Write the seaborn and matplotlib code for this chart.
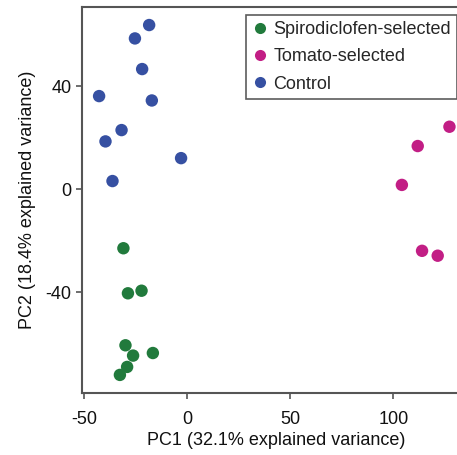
import matplotlib
matplotlib.use("Agg")
import matplotlib.pyplot as plt
import seaborn as sns
import pandas as pd

groups = ["Spirodiclofen-selected", "Tomato-selected", "Control"]

spiro_pc1 = [-31.1, -22.3, -28.9, -30.1, -16.8, -26.4, -29.3, -32.8]
spiro_pc2 = [-23.0, -39.5, -40.5, -60.7, -63.7, -64.7, -69.1, -72.2]

tomato_pc1 = [127.2, 111.8, 104.1, 113.9, 121.5]
tomato_pc2 = [24.2, 16.7, 1.6, -24.0, -25.9]

control_pc1 = [-18.6, -25.5, -22.0, -42.9, -17.3, -32.0, -39.8, -3.1, -36.4]
control_pc2 = [63.7, 58.5, 46.6, 36.1, 34.4, 22.9, 18.5, 12.0, 3.1]

colors = {"Spirodiclofen-selected": "#217a3c",
          "Tomato-selected": "#c21e85",
          "Control": "#3650a2"}

df = pd.DataFrame({
    "PC1": spiro_pc1 + tomato_pc1 + control_pc1,
    "PC2": spiro_pc2 + tomato_pc2 + control_pc2,
    "Group": [groups[0]] * len(spiro_pc1) + [groups[1]] * len(tomato_pc1) + [groups[2]] * len(control_pc1),
})

sns.set_style("white")
plt.rcParams["font.family"] = ["Liberation Sans", "DejaVu Sans"]
plt.rcParams["axes.unicode_minus"] = False

fig = plt.figure(figsize=(4.57, 4.55), dpi=100)
ax = fig.add_axes([0.179, 0.137, 0.85, 0.847])

sns.scatterplot(data=df, x="PC1", y="PC2", hue="Group", hue_order=groups,
                palette=colors, s=80, edgecolor="none", ax=ax, legend=True)

ax.set_xlim(-51.3, 137.3)
ax.set_ylim(-79.1, 70.6)
ax.set_xticks([-50, 0, 50, 100])
ax.set_yticks([-40, 0, 40])
ax.set_xlabel("PC1 (32.1% explained variance)", fontsize=13, color="#111111", labelpad=3)
ax.set_ylabel("PC2 (18.4% explained variance)", fontsize=13, color="#111111", labelpad=7)
ax.tick_params(axis="both", labelsize=13, direction="out", length=4, width=1.2,
               color="#555555", labelcolor="#111111", bottom=True, left=True)
ax.tick_params(axis="x", pad=9)
for side in ["left", "bottom", "top", "right"]:
    ax.spines[side].set_color("#555555")
    ax.spines[side].set_linewidth(1.5)

handles, labels = ax.get_legend_handles_labels()
leg = ax.legend(handles, labels, loc="upper left",
                bbox_to_anchor=(245.7 / 457, 1 - 15 / 455),
                bbox_transform=fig.transFigure, fontsize=13, frameon=True,
                fancybox=False, borderpad=0.35, labelspacing=0.56,
                handletextpad=0.27, handlelength=0.9, borderaxespad=0)
leg.get_frame().set_edgecolor("#333333")
leg.get_frame().set_linewidth(1.2)
for h in leg.legend_handles:
    if hasattr(h, "set_markersize"):
        h.set_markersize(8)

fig.savefig("out.png", dpi=100)
